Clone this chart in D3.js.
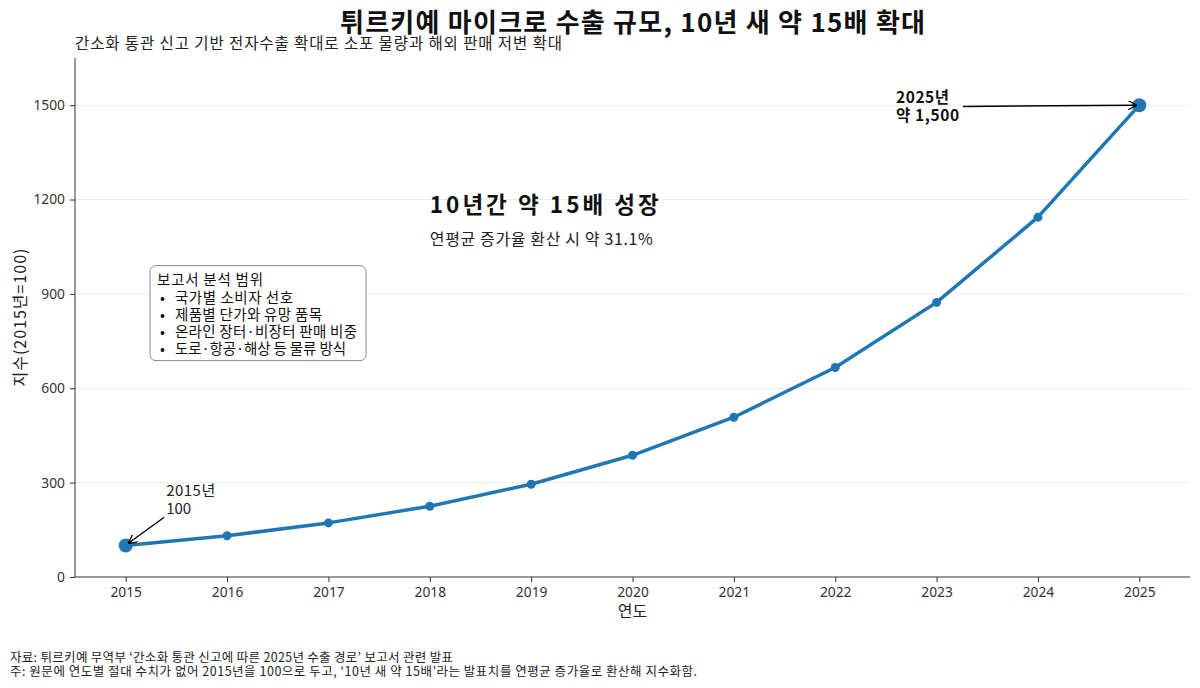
<!DOCTYPE html>
<html>
<head>
<meta charset="utf-8">
<script src="https://cdn.jsdelivr.net/npm/d3@7"></script>
<style>
  body { margin: 0; background: #fff; }
  svg { font-family: "Noto Sans CJK KR", "Noto Sans", sans-serif; }
</style>
</head>
<body>
<div id="chart"></div>
<script>
// Chart data (index, 2015 = 100)
const years = [2015, 2016, 2017, 2018, 2019, 2020, 2021, 2022, 2023, 2024, 2025];
const indexValues = [100, 131, 172, 225, 295, 387, 508, 666, 873, 1144, 1500];
const yTicks = [0, 300, 600, 900, 1200, 1500];
const scopeItems = ["국가별 소비자 선호", "제품별 단가와 유망 품목", "온라인 장터·비장터 판매 비중", "도로·항공·해상 등 물류 방식"];
const scopeWidths = [118, 147, 182, 171];

const W = 1200, H = 688;
const margin = { top: 58, right: 10, bottom: 111, left: 75 };
const width = W - margin.left - margin.right;
const height = H - margin.top - margin.bottom;

const svg = d3.select("#chart").append("svg")
  .attr("width", W).attr("height", H);

const g = svg.append("g")
  .attr("transform", `translate(${margin.left},${margin.top})`);

const x = d3.scaleLinear().domain([2014.5, 2025.5]).range([0, width]);
const y = d3.scaleLinear().domain([0, 1650]).range([height, 0]);

// stretch a text to the width it has in the reference
function fit(sel, len) {
  return sel.attr("textLength", len).attr("lengthAdjust", "spacing");
}

// arrow head
svg.append("defs").append("marker")
  .attr("id", "arrow").attr("viewBox", "0 0 10 10")
  .attr("refX", 9).attr("refY", 5)
  .attr("markerWidth", 9).attr("markerHeight", 9)
  .attr("markerUnits", "userSpaceOnUse")
  .attr("orient", "auto")
  .append("path").attr("d", "M0,0 L10,5 L0,10").attr("fill", "none")
  .attr("stroke", "#000").attr("stroke-width", 1.4);

// grid
g.selectAll(".grid").data(yTicks.filter(d => d > 0)).enter().append("line")
  .attr("x1", 0).attr("x2", width)
  .attr("y1", d => y(d)).attr("y2", d => y(d))
  .attr("stroke", "#ebebeb").attr("stroke-width", 1);

// axes
const xAxis = g.append("g").attr("transform", `translate(0,${height})`)
  .call(d3.axisBottom(x).tickValues(years).tickFormat(d3.format("d")).tickSize(5).tickPadding(5));
const yAxis = g.append("g")
  .call(d3.axisLeft(y).tickValues(yTicks).tickFormat(d3.format("d")).tickSize(5).tickPadding(5));
[xAxis, yAxis].forEach(a => {
  a.selectAll("text").attr("font-size", 13.8).attr("fill", "#333")
    .attr("font-family", "'Noto Sans', 'Noto Sans CJK KR', sans-serif");
  a.selectAll("line").attr("stroke", "#333");
  a.select(".domain").attr("stroke", "#333");
});
xAxis.select(".domain").attr("d", `M0,0H${width}`);
yAxis.select(".domain").attr("d", `M0,${height}V0`);

// line
const line = d3.line().x((d, i) => x(years[i])).y(d => y(d));
g.append("path").datum(indexValues)
  .attr("d", line).attr("fill", "none")
  .attr("stroke", "#1f77b4").attr("stroke-width", 3.5)
  .attr("stroke-linejoin", "round");

g.selectAll(".pt").data(indexValues).enter().append("circle")
  .attr("cx", (d, i) => x(years[i])).attr("cy", d => y(d))
  .attr("r", (d, i) => (i === 0 || i === years.length - 1) ? 7 : 4.5)
  .attr("fill", "#1f77b4");

// title and subtitle
fit(svg.append("text").attr("x", 340).attr("y", 32)
  .attr("font-size", 26).attr("font-weight", "bold")
  .attr("fill", "#111").text("튀르키예 마이크로 수출 규모, 10년 새 약 15배 확대"), 585);
fit(svg.append("text").attr("x", margin.left).attr("y", 49)
  .attr("font-size", 15.5).attr("fill", "#222")
  .text("간소화 통관 신고 기반 전자수출 확대로 소포 물량과 해외 판매 저변 확대"), 487);

// axis labels
svg.append("text").attr("x", margin.left + width / 2).attr("y", 617)
  .attr("text-anchor", "middle").attr("font-size", 16).attr("fill", "#222").text("연도");
fit(svg.append("text").attr("transform", `translate(26,${margin.top + height / 2}) rotate(-90)`)
  .attr("text-anchor", "middle").attr("font-size", 16).attr("fill", "#222").text("지수(2015년=100)"), 138);

// central annotation
fit(g.append("text").attr("x", x(2018)).attr("y", y(1157))
  .attr("font-size", 22.5).attr("font-weight", "bold").attr("fill", "#111")
  .text("10년간 약 15배 성장"), 229);
fit(g.append("text").attr("x", x(2018)).attr("y", y(1054))
  .attr("font-size", 16).attr("fill", "#222").text("연평균 증가율 환산 시 약 31.1%"), 223);

// scope box
const box = g.append("g").attr("transform", `translate(${x(2015.24)},${y(990)})`);
box.append("rect").attr("width", 216).attr("height", 95).attr("rx", 6)
  .attr("fill", "#fff").attr("stroke", "#888").attr("stroke-width", 1);
fit(box.append("text").attr("x", 7).attr("y", 19).attr("font-size", 14.5).attr("fill", "#111")
  .text("보고서 분석 범위"), 106);
box.selectAll(".bullet").data(scopeItems).enter().append("text")
  .attr("x", 10).attr("y", (d, i) => 37 + i * 17.2)
  .attr("font-size", 14.5).attr("fill", "#111").text("•");
box.selectAll(".item").data(scopeItems).enter().append("text")
  .attr("x", 25).attr("y", (d, i) => 37 + i * 17.2)
  .attr("font-size", 14.5).attr("fill", "#111")
  .attr("textLength", (d, i) => scopeWidths[i]).attr("lengthAdjust", "spacing")
  .text(d => d);

// 2015 annotation
const a1 = g.append("text").attr("font-size", 15).attr("fill", "#222");
fit(a1.append("tspan").attr("x", x(2015.4)).attr("y", y(256)).text("2015년"), 49);
a1.append("tspan").attr("x", x(2015.4)).attr("y", y(199)).text("100");
g.append("line").attr("x1", x(2015.38)).attr("y1", y(190))
  .attr("x2", x(2015.03)).attr("y2", y(108))
  .attr("stroke", "#000").attr("stroke-width", 1.4).attr("marker-end", "url(#arrow)");

// 2025 annotation
const a2 = g.append("text").attr("font-size", 15.5).attr("font-weight", "bold").attr("fill", "#111");
fit(a2.append("tspan").attr("x", x(2022.6)).attr("y", y(1507)).text("2025년"), 53);
fit(a2.append("tspan").attr("x", x(2022.6)).attr("y", y(1450)).text("약 1,500"), 63);
g.append("line").attr("x1", x(2023.26)).attr("y1", y(1496))
  .attr("x2", x(2024.97)).attr("y2", y(1500))
  .attr("stroke", "#000").attr("stroke-width", 1.4).attr("marker-end", "url(#arrow)");

// footnotes
fit(svg.append("text").attr("x", 10).attr("y", 662).attr("font-size", 12.5).attr("fill", "#222")
  .text("자료: 튀르키예 무역부 ‘간소화 통관 신고에 따른 2025년 수출 경로’ 보고서 관련 발표"), 443);
fit(svg.append("text").attr("x", 10).attr("y", 676).attr("font-size", 12.5).attr("fill", "#222")
  .text("주: 원문에 연도별 절대 수치가 없어 2015년을 100으로 두고, ‘10년 새 약 15배’라는 발표치를 연평균 증가율로 환산해 지수화함."), 687);
</script>
</body>
</html>
